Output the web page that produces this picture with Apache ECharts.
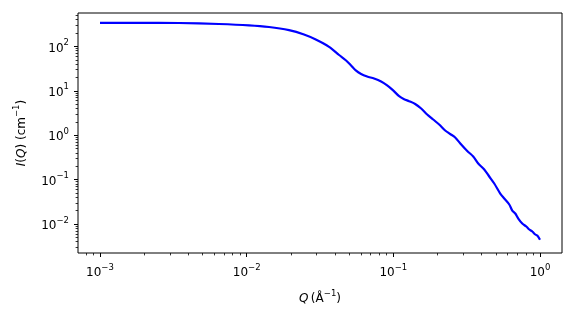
<!DOCTYPE html>
<html>
<head>
<meta charset="utf-8">
<script src="https://cdn.jsdelivr.net/npm/echarts@6/dist/echarts.min.js"></script>
<style>html,body{margin:0;padding:0;background:#fff;}#c{width:576px;height:316px;}</style>
</head>
<body>
<div id="c"></div>
<script>
// Q values (1/Å)
const qValues = [0.001, 0.00184, 0.00345, 0.006468, 0.01037, 0.0142, 0.01944, 0.0246, 0.02958, 0.03646,
  0.04266, 0.04762, 0.05151, 0.05546, 0.06029, 0.06627, 0.07393, 0.08254, 0.09073, 0.09968,
  0.1095, 0.1185, 0.1282, 0.1409, 0.1548, 0.1701, 0.1869, 0.2054, 0.2257, 0.2442,
  0.2641, 0.2903, 0.3191, 0.3505, 0.3792, 0.4168, 0.4507, 0.4876, 0.5358, 0.5705,
  0.6172, 0.647, 0.6783, 0.7111, 0.757, 0.8063, 0.8453, 0.8858, 0.9288, 0.9585, 1.0];
// I(Q) values (1/cm)
const iValues = [340, 340, 336.5, 319.6, 298.8, 273.5, 231.7, 185.4, 143.0, 97.9,
  64.0, 48.1, 37.1, 28.7, 23.9, 21.0, 18.9, 16.2, 13.2, 10.2,
  7.56, 6.44, 5.83, 5.04, 3.99, 2.93, 2.26, 1.74, 1.276, 1.064,
  0.888, 0.617, 0.4406, 0.3314, 0.2305, 0.1689, 0.1174, 0.0817, 0.0486, 0.0375,
  0.0275, 0.0201, 0.01724, 0.0133, 0.01026, 0.00879, 0.00752, 0.00678, 0.0058, 0.00551, 0.0044];

const xMajorTicks = [0.001, 0.01, 0.1, 1];
const yMajorTicks = [0.01, 0.1, 1, 10, 100];
const xMinorDecades = [-4, -3, -2, -1];
const yMinorDecades = [-3, -2, -1, 0, 1, 2];
const xMin = Math.pow(10, -3.15), xMax = Math.pow(10, 0.15);
const yMin = Math.pow(10, -2.653), yMax = Math.pow(10, 2.752);

function minors(decades, lo, hi) {
  const out = [];
  decades.forEach(d => { for (let m = 2; m <= 9; m++) { const v = m * Math.pow(10, d); if (v >= lo && v <= hi) out.push(+v.toPrecision(6)); } });
  return out;
}
const xMinor = minors(xMinorDecades, xMin, xMax);
const yMinor = minors(yMinorDecades, yMin, yMax);

function expLabel(v) {
  const e = Math.round(Math.log10(v));
  const s = e < 0 ? '\u2212' + (-e) : '' + e;
  return '{b|10}{s|' + s + '}';
}
const FONT = 'DejaVu Sans';
const rich = {
  b: { fontFamily: FONT, fontSize: 12, color: '#000', lineHeight: 16, verticalAlign: 'bottom' },
  s: { fontFamily: FONT, fontSize: 8.5, color: '#000', lineHeight: 16, verticalAlign: 'top' }
};
const nameRich = {
  i: { fontFamily: FONT, fontSize: 12, fontStyle: 'italic', color: '#000', lineHeight: 16, verticalAlign: 'bottom' },
  r: { fontFamily: FONT, fontSize: 12, color: '#000', lineHeight: 16, verticalAlign: 'bottom' },
  s: { fontFamily: FONT, fontSize: 8.5, color: '#000', lineHeight: 16, verticalAlign: 'top' }
};

const data = qValues.map((q, k) => [q, iValues[k]]);
const chart = echarts.init(document.getElementById('c'), null, { renderer: 'canvas' });
const common = { type: 'log', logBase: 10, splitLine: { show: false }, axisLine: { show: false } };
chart.setOption({
  animation: false,
  backgroundColor: '#fff',
  grid: { left: 78, top: 13, right: 14, bottom: 63, show: true, borderColor: '#000', borderWidth: 1, backgroundColor: 'transparent' },
  xAxis: [
    Object.assign({}, common, {
      min: xMin, max: xMax, position: 'bottom',
      axisTick: { show: true, length: 4, lineStyle: { color: '#000', width: 1 }, customValues: xMajorTicks },
      axisLabel: { show: true, margin: 10, customValues: xMajorTicks, formatter: v => expLabel(v), rich: rich },
      name: '{i|Q}{r|\u2009(\u00c5}{s|\u22121}{r|)}', nameLocation: 'middle', nameGap: 36,
      nameTextStyle: { rich: nameRich }
    }),
    Object.assign({}, common, {
      min: xMin, max: xMax, position: 'bottom',
      axisTick: { show: true, length: 2.4, lineStyle: { color: '#000', width: 0.8 }, customValues: xMinor },
      axisLabel: { show: false }
    })
  ],
  yAxis: [
    Object.assign({}, common, {
      min: yMin, max: yMax, position: 'left',
      axisTick: { show: true, length: 4, lineStyle: { color: '#000', width: 1 }, customValues: yMajorTicks },
      axisLabel: { show: true, margin: 9, customValues: yMajorTicks, formatter: v => expLabel(v), rich: rich },
      name: '{i|I}{r|(}{i|Q}{r|) (cm}{s|\u22121}{r|)}', nameLocation: 'middle', nameGap: 50,
      nameTextStyle: { rich: nameRich }
    }),
    Object.assign({}, common, {
      min: yMin, max: yMax, position: 'left',
      axisTick: { show: true, length: 2.4, lineStyle: { color: '#000', width: 0.8 }, customValues: yMinor },
      axisLabel: { show: false }
    })
  ],
  series: [{
    type: 'line', xAxisIndex: 0, yAxisIndex: 0, data: data,
    showSymbol: false, smooth: 0.3,
    lineStyle: { color: '#0000ff', width: 2.2 }
  }]
});
</script>
</body>
</html>
